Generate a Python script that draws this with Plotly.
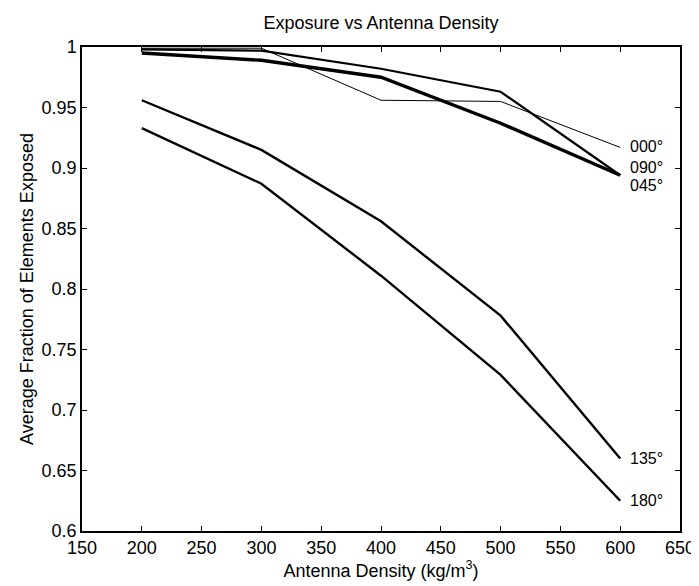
import plotly.graph_objects as go

density = [200, 300, 400, 500, 600]
exp_000 = [0.999, 0.999, 0.956, 0.955, 0.917]
exp_045 = [0.995, 0.989, 0.975, 0.937, 0.894]
exp_090 = [0.998, 0.997, 0.982, 0.963, 0.894]
exp_135 = [0.956, 0.915, 0.856, 0.778, 0.660]
exp_180 = [0.933, 0.887, 0.811, 0.729, 0.625]
series_names = ["000°", "045°", "090°", "135°", "180°"]

series = [exp_000, exp_045, exp_090, exp_135, exp_180]
widths = [1, 3.4, 2.2, 2.4, 2.4]
label_shift = [1, -10, 8, 0, 0]

FONT = "Liberation Sans, Arial, sans-serif"
FS = 18

fig = go.Figure()
for name, vals, w in zip(series_names, series, widths):
    fig.add_trace(go.Scatter(x=density, y=vals, mode="lines", name=name,
                             line=dict(color="black", width=w)))

for name, vals, ys in zip(series_names, series, label_shift):
    fig.add_annotation(x=density[-1], y=vals[-1], text=name, showarrow=False,
                       xanchor="left", yanchor="middle", xshift=8, yshift=ys,
                       font=dict(family=FONT, size=16, color="black"))

axis_common = dict(showgrid=False, zeroline=False, showline=True, linecolor="black",
                   linewidth=1.5, mirror="ticks", ticks="inside", ticklen=5,
                   tickcolor="black", tickwidth=1.2,
                   tickfont=dict(family=FONT, size=FS, color="black"))

fig.update_xaxes(range=[150, 650], tick0=150, dtick=50,
                 title=dict(text="Antenna Density (kg/m<sup>3</sup>)",
                            font=dict(family=FONT, size=FS, color="black"), standoff=4),
                 **axis_common)
fig.update_yaxes(range=[0.6, 1.0], tick0=0.6, dtick=0.05,
                 title=dict(text="Average Fraction of Elements Exposed",
                            font=dict(family=FONT, size=FS, color="black"), standoff=3),
                 **axis_common)

fig.update_layout(
    width=699, height=586,
    margin=dict(l=74, r=17, t=39, b=63),
    paper_bgcolor="white", plot_bgcolor="white",
    showlegend=False,
    title=dict(text="Exposure vs Antenna Density", x=0.5, xref="paper",
               y=1 - 15 / 586, yanchor="middle",
               font=dict(family=FONT, size=FS, color="black")),
)

fig.write_html("out.html")
